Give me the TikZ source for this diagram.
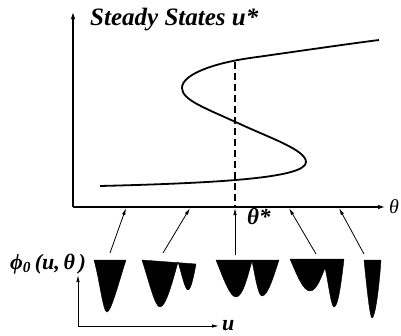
\documentclass[tikz,border=0pt]{standalone}
\usepackage{fontspec}
\setmainfont{Liberation Serif}
\usetikzlibrary{positioning, arrows.meta}

\begin{document}
\begin{tikzpicture}[
        x=1pt, y=-1pt, >={Latex[length=7pt, width=4.5pt]},
        axis/.style={line width=1.1pt, ->},
        branch/.style={line width=1.8pt},
        crit/.style={line width=1.5pt, dash pattern=on 7pt off 4pt},
        map/.style={line width=0.8pt, -{Latex[length=7pt, width=3.5pt]}},
        well/.style={fill=black},
        lbl/.style={font=\fontsize{25}{28}\selectfont\bfseries\itshape, inner sep=0pt},
        sym/.style={font=\fontsize{22}{26}\selectfont\bfseries\itshape, inner sep=0pt}
    ]
        \useasboundingbox (0,0) rectangle (401,335);

        % --- BIFURCATION AXES ---
        \coordinate (origin) at (73,207);
        \coordinate (ytop) at (73,12);
        \coordinate (xend) at (385,207);
        \draw[axis] (origin) -- (ytop);
        \draw[axis] (origin) -- (xend);
        \node[lbl, anchor=base west] (title) at (90,25) {Steady States u*};
        \node[font=\fontsize{20}{24}\selectfont\itshape, inner sep=0pt, anchor=west] (theta) at (389,207) {θ};

        % --- S-SHAPED STEADY STATE CURVE ---
        \draw[branch] (100,186) .. controls (220,183) and (306,178) .. (306,162)
            .. controls (306,150) and (270,138) .. (240,124)
            .. controls (205,108) and (182,100) .. (182,88)
            .. controls (182,74) and (215,63) .. (250,58)
            .. controls (300,51) and (340,45) .. (379,40);

        % --- CRITICAL PARAMETER ---
        \coordinate (crittop) at (235,62);
        \coordinate (critbot) at (235,207);
        \draw[crit] (crittop) -- (critbot);
        \node[sym, font=\fontsize{23}{26}\selectfont\bfseries\itshape, anchor=base west] (thetastar) at (247,224) {θ*};

        % --- POTENTIAL AXES ---
        \coordinate (porigin) at (78,326);
        \draw[map] (porigin) -- (78,275);
        \draw[map] (porigin) -- (219,326);
        \node[sym, anchor=base west] (phi) at (10,269) {ϕ\textsubscript{0}\,(u,\,θ\,)};
        \node[sym, anchor=base west, text depth=0pt] (ulbl) at (222,330) {u};

        % --- POTENTIAL WELLS ---
        \draw[well] (94,260) .. controls (100,282) and (103,312) .. (107,312)
            .. controls (111,312) and (118,285) .. (126,260) -- cycle;
        \draw[well] (142,260) .. controls (150,285) and (155,307) .. (160,307)
            .. controls (166,307) and (173,280) .. (178,262)
            .. controls (182,275) and (185,290) .. (188,290)
            .. controls (191,290) and (194,275) .. (196,264) -- cycle;
        \draw[well] (216,260) .. controls (224,280) and (230,297) .. (236,297)
            .. controls (243,297) and (248,275) .. (252,261)
            .. controls (255,275) and (258,296) .. (262,296)
            .. controls (268,296) and (274,275) .. (279,260) -- cycle;
        \draw[well] (290,259) .. controls (297,275) and (303,291) .. (310,291)
            .. controls (317,291) and (322,275) .. (325,268)
            .. controls (328,280) and (331,307) .. (334,307)
            .. controls (338,307) and (341,285) .. (344,259) -- cycle;
        \draw[well] (364,260) .. controls (367,290) and (370,318) .. (372,318)
            .. controls (375,318) and (379,290) .. (381,260) -- cycle;

        % --- MAPPING ARROWS ---
        \coordinate (w1) at (110,253);  \coordinate (a1) at (126,208);
        \coordinate (w2) at (163,253);  \coordinate (a2) at (190,208);
        \coordinate (w3) at (235,255);  \coordinate (a3) at (235,208);
        \coordinate (w4) at (316,254);  \coordinate (a4) at (289,208);
        \coordinate (w5) at (364,254);  \coordinate (a5) at (339,208);
        \foreach \i in {1,...,5}
            \draw[map] (w\i) -- (a\i);

\end{tikzpicture}
\end{document}
